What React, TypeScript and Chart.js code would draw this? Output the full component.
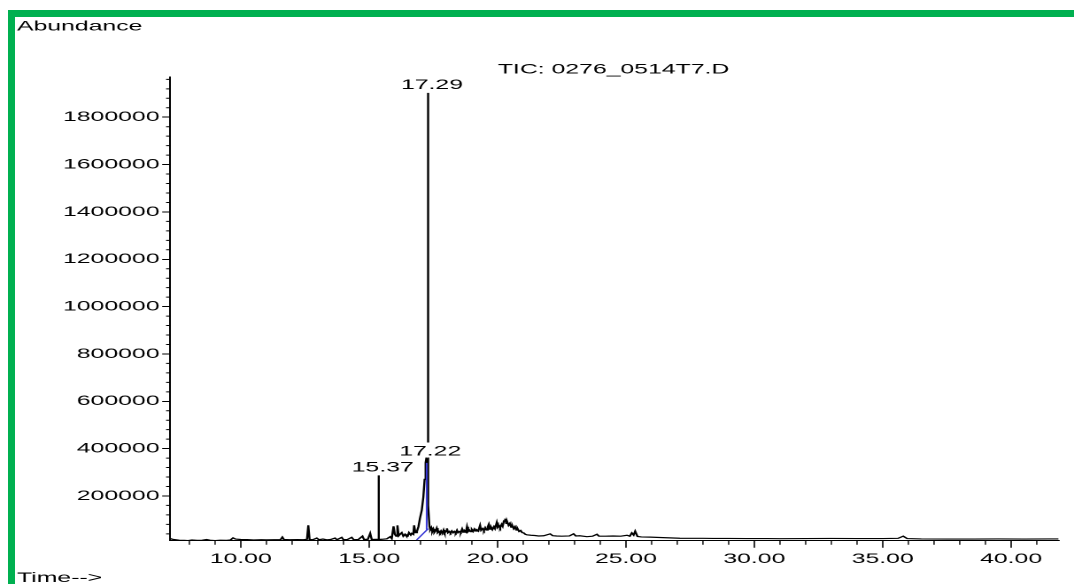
import { useEffect, useRef } from 'react';
import { Chart, registerables } from 'chart.js';

Chart.register(...registerables);

// ---- data (retention time in minutes, abundance) ----
const retentionTimes = [
  7.25, 7.35, 7.6, 7.8, 7.95, 8.1, 8.3, 8.5, 8.67, 8.8, 9.0, 9.2, 9.45, 9.6, 9.7, 9.8,
  10.0, 10.25, 10.5, 10.8, 11.0, 11.3, 11.55, 11.62, 11.68, 11.9, 12.2, 12.44, 12.58, 12.63, 12.68,
  12.8, 12.96, 13.05, 13.2, 13.35, 13.5, 13.67, 13.75, 13.93, 14.0, 14.15, 14.32, 14.4, 14.58,
  14.74, 14.8, 14.95, 15.04, 15.1, 15.25, 15.36, 15.37, 15.38, 15.5, 15.69, 15.82, 15.88, 15.95,
  16.0, 16.05, 16.1, 16.15, 16.22, 16.27, 16.33, 16.4, 16.45, 16.5, 16.55, 16.62, 16.66, 16.72, 16.75, 16.8,
  16.86, 16.92, 16.98, 17.05, 17.11, 17.16, 17.2, 17.22, 17.28, 17.29, 17.3, 17.35, 17.38,
  17.42, 17.46, 17.5, 17.54, 17.58, 17.63, 17.67, 17.72, 17.76, 17.8, 17.85, 17.9, 17.94, 17.99,
  18.03, 18.07, 18.12, 18.17, 18.22, 18.27, 18.32, 18.37, 18.42, 18.46, 18.52, 18.57, 18.62, 18.66,
  18.72, 18.77, 18.81, 18.85, 18.9, 18.95, 19.0, 19.05, 19.1, 19.15, 19.2, 19.25, 19.32, 19.36,
  19.42, 19.47, 19.52, 19.57, 19.62, 19.66, 19.7, 19.76, 19.8, 19.86, 19.9, 19.97, 20.01, 20.06,
  20.1, 20.16, 20.2, 20.25, 20.3, 20.34, 20.38, 20.43, 20.48, 20.53, 20.58, 20.63, 20.68, 20.73,
  20.78, 20.84, 20.9, 20.96, 21.02, 21.08, 21.14, 21.3, 21.45, 21.6, 21.8, 22.05, 22.15, 22.3, 22.5, 22.8, 22.96, 23.05, 23.2,
  23.48, 23.7, 23.87, 23.95, 24.2, 24.5, 24.8, 25.04, 25.15, 25.23, 25.3, 25.36, 25.45, 25.6,
  25.95, 26.45, 27.1, 28.0, 28.4, 29.0, 29.7, 30.5, 31.0, 32.0, 33.0, 34.0, 35.0, 35.6, 35.8,
  35.95, 36.5, 37.5, 38.5, 39.5, 40.5, 41.5, 41.85,
];

const abundance = [
  20000, 17000, 13000, 12500, 11500, 14000, 12500, 13000, 16000, 13000, 11500, 13000, 12500, 14000, 23000, 18000,
  16000, 15500, 14000, 15000, 14500, 15000, 15500, 26000, 16000, 15000, 15500, 15000, 17000, 76000, 16000,
  15000, 22000, 15000, 18000, 14500, 16000, 22000, 15000, 25000, 15000, 16000, 25000, 15000, 16000,
  30000, 16000, 17000, 42000, 16000, 16500, 17000, 287000, 16000, 17000, 19000, 28000, 20000, 72000,
  38000, 30000, 76000, 32000, 40000, 45000, 30000, 38000, 31000, 30000, 45000, 35000, 42000, 38000, 76000, 45000,
  50000, 70000, 106000, 140000, 195000, 270000, 340000, 354000, 330000, 1903000, 160000, 70000, 58000,
  66000, 50000, 60000, 46000, 52000, 64000, 45000, 50000, 44000, 52000, 42000, 56000, 44000, 50000,
  63000, 45000, 50000, 44000, 52000, 45000, 50000, 44000, 55000, 45000, 50000, 46000, 60000, 47000,
  53000, 48000, 70000, 50000, 56000, 49000, 58000, 50000, 60000, 52000, 56000, 52000, 76000, 55000,
  62000, 54000, 66000, 56000, 70000, 80000, 60000, 66000, 58000, 70000, 62000, 88000, 68000, 74000,
  66000, 80000, 72000, 95000, 104000, 84000, 90000, 76000, 84000, 68000, 74000, 62000, 70000, 56000,
  62000, 50000, 54000, 45000, 44000, 38000, 36000, 34000, 33000, 31000, 32000, 40000, 32000, 31000, 30000, 31000, 40000, 31000, 32000,
  28000, 30000, 38000, 30000, 30000, 31000, 30000, 34000, 30000, 44000, 35000, 51000, 29000, 27000,
  26000, 24000, 21500, 21000, 20500, 20500, 20000, 20000, 19500, 20000, 20500, 20000, 20000, 21000, 30000,
  20000, 18500, 18000, 18000, 18500, 18000, 18500, 18500,
];

// integration baseline / drop line (blue)
const baselineTimes = [16.85, 17.3, 17.27, 17.24, 17.24];
const baselineValues = [14000, 62000, null, 58000, 340000];

const peakLabels = [15.37, 17.22, 17.29];

const xMajorTicks = [10, 15, 20, 25, 30, 35, 40];
const yMajorTicks = [200000, 400000, 600000, 800000, 1000000, 1200000, 1400000, 1600000, 1800000];

const X_MIN = 7.25;
const X_MAX = 41.85;
const Y_MIN = 11000;
const Y_MAX = 1970000;
const X_MINOR_STEP = 1;
const Y_MINOR_STEP = 40000;

const titleText = 'TIC: 0276_0514T7.D';
const yTitle = 'Abundance';
const xTitle = 'Time-->';

// ---- layout (canvas is drawn narrow then stretched horizontally) ----
const CANVAS_W = 598;
const CANVAS_H = 567;
const STRETCH = 1059 / CANVAS_W;
const FAMILY = '"Liberation Sans", Arial, sans-serif';
const FONT = `14px ${FAMILY}`;

const overlayPlugin = {
  id: 'overlay',
  afterDraw(chart: any) {
    const { ctx, chartArea } = chart;
    const x = chart.scales.x;
    const y = chart.scales.y;
    ctx.save();
    // minor ticks
    ctx.strokeStyle = '#000';
    ctx.lineWidth = 0.7;
    ctx.beginPath();
    for (let v = Math.ceil(X_MIN); v <= X_MAX; v += X_MINOR_STEP) {
      if (xMajorTicks.includes(v)) continue;
      const px = x.getPixelForValue(v);
      ctx.moveTo(px, chartArea.bottom);
      ctx.lineTo(px, chartArea.bottom + 4);
    }
    ctx.stroke();
    ctx.lineWidth = 1;
    ctx.beginPath();
    for (let v = Y_MINOR_STEP; v <= Y_MAX; v += Y_MINOR_STEP) {
      if (yMajorTicks.includes(v)) continue;
      const py = y.getPixelForValue(v);
      ctx.moveTo(chartArea.left, py);
      ctx.lineTo(chartArea.left - 2.3, py);
    }
    ctx.stroke();

    ctx.font = FONT;
    ctx.fillStyle = '#000';
    ctx.textBaseline = 'alphabetic';
    // peak labels
    ctx.textAlign = 'center';
    for (const rt of peakLabels) {
      const idx = retentionTimes.indexOf(rt);
      const px = x.getPixelForValue(rt) + 2.3;
      const py = y.getPixelForValue(abundance[idx]) - 4;
      const label = rt.toFixed(2);
      const w = ctx.measureText(label).width;
      ctx.fillStyle = '#fff';
      ctx.fillRect(px - w / 2 - 1, py - 13, w + 2, 15);
      ctx.fillStyle = '#000';
      ctx.fillText(label, px, py);
    }
    ctx.fillText(titleText, 338, 56.3);
    ctx.textAlign = 'left';
    ctx.fillText(yTitle, 1.1, 13.7);
    ctx.fillText(xTitle, 1.1, 565);
    ctx.restore();
  },
};

export default function App() {
  const canvasRef = useRef<HTMLCanvasElement | null>(null);

  useEffect(() => {
    const canvas = canvasRef.current;
    if (!canvas) return;
    const chart = new Chart(canvas, {
      type: 'line',
      data: {
        datasets: [
          {
            data: baselineTimes.map((t, i) => ({ x: t, y: baselineValues[i] })) as any,
            borderColor: '#3a3ad6',
            borderWidth: 1,
            pointRadius: 0,
            spanGaps: false,
          },
          {
            data: retentionTimes.map((t, i) => ({ x: t, y: abundance[i] })),
            borderColor: '#000',
            borderWidth: 1.2,
            pointRadius: 0,
            tension: 0,
          },
        ],
      },
      options: {
        animation: false,
        responsive: false,
        devicePixelRatio: 2,
        events: [],
        layout: { padding: { top: 60, right: 8.7, left: 0, bottom: 0 } },
        plugins: { legend: { display: false }, tooltip: { enabled: false }, title: { display: false } },
        scales: {
          x: {
            type: 'linear',
            min: X_MIN,
            max: X_MAX,
            afterBuildTicks: (scale: any) => {
              scale.ticks = xMajorTicks.map((v) => ({ value: v }));
            },
            afterFit: (scale: any) => {
              scale.height = 43.3;
            },
            ticks: {
              callback: (v: any) => Number(v).toFixed(2),
              font: { family: FAMILY, size: 14 },
              color: '#000',
              padding: 3,
              maxRotation: 0,
              autoSkip: false,
            },
            grid: { drawOnChartArea: false, drawTicks: true, tickLength: 7, tickColor: '#000', lineWidth: 0.8 },
            border: { display: true, color: '#000', width: 1 },
          },
          y: {
            type: 'linear',
            min: Y_MIN,
            max: Y_MAX,
            afterBuildTicks: (scale: any) => {
              scale.ticks = yMajorTicks.map((v) => ({ value: v }));
            },
            afterFit: (scale: any) => {
              scale.width = 87.6;
            },
            ticks: {
              callback: (v: any) => String(v),
              font: { family: FAMILY, size: 14 },
              color: '#000',
              padding: 1.5,
              autoSkip: false,
            },
            grid: { drawOnChartArea: false, drawTicks: true, tickLength: 4.5, tickColor: '#000', lineWidth: 1 },
            border: { display: true, color: '#000', width: 1 },
          },
        },
      },
      plugins: [overlayPlugin],
    } as any);
    return () => chart.destroy();
  }, []);

  return (
    <div
      style={{
        position: 'absolute',
        left: 8,
        top: 10,
        width: 1066,
        height: 574,
        boxSizing: 'border-box',
        borderTop: '7px solid #00b050',
        borderLeft: '7px solid #00b050',
        background: '#fff',
        overflow: 'hidden',
      }}
    >
      <div style={{ transform: `scaleX(${STRETCH})`, transformOrigin: '0 0', width: CANVAS_W, height: CANVAS_H }}>
        <canvas ref={canvasRef} width={CANVAS_W} height={CANVAS_H} />
      </div>
    </div>
  );
}
